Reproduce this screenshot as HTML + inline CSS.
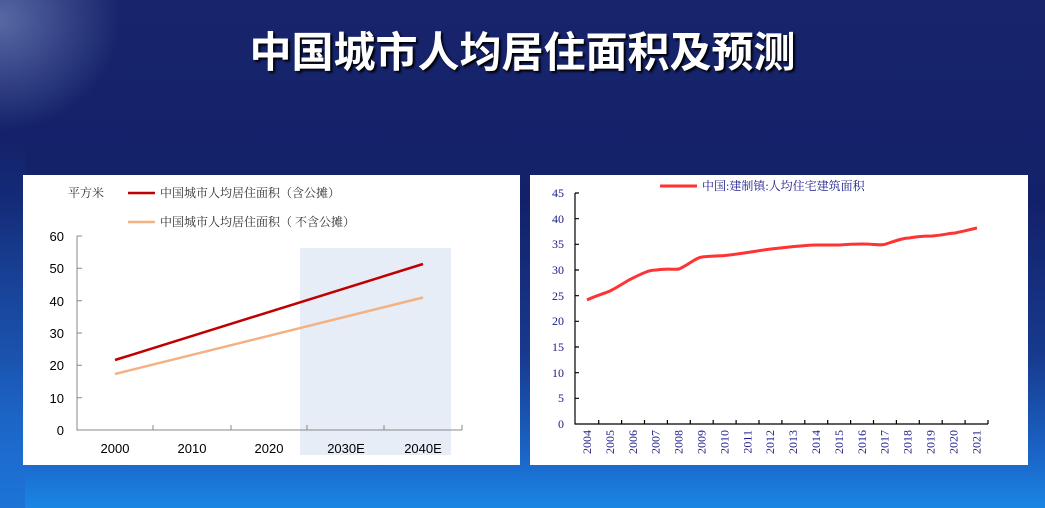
<!DOCTYPE html>
<html><head><meta charset="utf-8"><style>
html,body{margin:0;padding:0}
body{width:1045px;height:508px;overflow:hidden;position:relative;
background:linear-gradient(180deg,#18256c 0%,#13216a 40%,#173a8e 70%,#1a66c8 90%,#1a86e6 100%);font-family:"Liberation Sans","Noto Sans CJK SC",sans-serif}
.glow{position:absolute;left:0;top:0;width:1045px;height:508px;background:radial-gradient(ellipse 120px 110px at 0px 20px,rgba(140,160,210,.55),rgba(0,0,0,0));}
.edge{position:absolute;left:0;top:140px;width:25px;height:368px;background:linear-gradient(180deg,rgba(30,80,170,.0),rgba(30,110,210,.8))}
h1{position:absolute;left:0;width:1045px;top:24px;margin:0;text-align:center;color:#fff;font-size:42px;line-height:52px;font-weight:bold;font-family:"Noto Sans CJK SC",sans-serif;text-shadow:2px 2px 2px #000}
svg{position:absolute;left:0;top:0}
</style></head><body>
<div class="glow"></div>
<div class="edge"></div>
<h1>中国城市人均居住面积及预测</h1>
<svg width="1045" height="508" font-family="Liberation Serif, Noto Serif CJK SC, serif">
<rect x="23" y="175" width="497" height="290" fill="#fff"/>
<rect x="530" y="175" width="498" height="290" fill="#fff"/>
<rect x="300" y="248" width="151" height="207" fill="#e6edf6"/>
<g stroke="#888" stroke-width="1" fill="none">
<path d="M77 236V430H462"/>
<path d="M77 236h5M77 268.3h5M77 300.7h5M77 333h5M77 365.3h5M77 397.7h5"/>
<path d="M153 430v-5M231 430v-5M307 430v-5M384 430v-5M462 430v-5"/>
</g>
<g font-family="Liberation Sans, sans-serif" font-size="13" fill="#000" text-anchor="end">
<text x="64" y="241">60</text><text x="64" y="273">50</text><text x="64" y="306">40</text><text x="64" y="338">30</text><text x="64" y="370">20</text><text x="64" y="403">10</text><text x="64" y="435">0</text>
</g>
<g font-family="Liberation Sans, sans-serif" font-size="13" fill="#000" text-anchor="middle">
<text x="115" y="453">2000</text><text x="192" y="453">2010</text><text x="269" y="453">2020</text><text x="346" y="453">2030E</text><text x="423" y="453">2040E</text>
</g>
<line x1="115" y1="360" x2="423" y2="264" stroke="#c00000" stroke-width="2.5"/>
<line x1="115" y1="374" x2="423" y2="297.5" stroke="#f4b183" stroke-width="2.5"/>
<g font-size="12" fill="#333">
<text x="68" y="197">平方米</text>
<line x1="128" y1="193" x2="155" y2="193" stroke="#c00000" stroke-width="2.5"/>
<text x="160" y="197">中国城市人均居住面积（含公摊）</text>
<line x1="128" y1="222" x2="155" y2="222" stroke="#f4b183" stroke-width="2.5"/>
<text x="160" y="226">中国城市人均居住面积（ 不含公摊）</text>
</g>
<g stroke="#000" stroke-width="1.2" fill="none">
<path d="M575 193V424H988"/>
<path d="M575 193h4M575 218.7h4M575 244.3h4M575 270h4M575 295.7h4M575 321.3h4M575 347h4M575 372.7h4M575 398.3h4"/>
<path d="M598.7 424v-4M621.6 424v-4M644.5 424v-4M667.4 424v-4M690.3 424v-4M713.2 424v-4M736.1 424v-4M759 424v-4M781.9 424v-4M804.8 424v-4M827.7 424v-4M850.6 424v-4M873.5 424v-4M896.4 424v-4M919.3 424v-4M942.2 424v-4M965.1 424v-4M988 424v-4"/>
</g>
<g font-size="12" fill="#1a1a8a" text-anchor="end">
<text x="564" y="197">45</text><text x="564" y="223">40</text><text x="564" y="248">35</text><text x="564" y="274">30</text><text x="564" y="300">25</text><text x="564" y="325">20</text><text x="564" y="351">15</text><text x="564" y="377">10</text><text x="564" y="402">5</text><text x="564" y="428">0</text>
</g>
<g font-size="12" fill="#1a1a8a" text-anchor="end">
<text transform="translate(591,430) rotate(-90)">2004</text>
<text transform="translate(613.9,430) rotate(-90)">2005</text>
<text transform="translate(636.8,430) rotate(-90)">2006</text>
<text transform="translate(659.7,430) rotate(-90)">2007</text>
<text transform="translate(682.6,430) rotate(-90)">2008</text>
<text transform="translate(705.5,430) rotate(-90)">2009</text>
<text transform="translate(728.4,430) rotate(-90)">2010</text>
<text transform="translate(751.3,430) rotate(-90)">2011</text>
<text transform="translate(774.2,430) rotate(-90)">2012</text>
<text transform="translate(797.1,430) rotate(-90)">2013</text>
<text transform="translate(820,430) rotate(-90)">2014</text>
<text transform="translate(842.9,430) rotate(-90)">2015</text>
<text transform="translate(865.8,430) rotate(-90)">2016</text>
<text transform="translate(888.7,430) rotate(-90)">2017</text>
<text transform="translate(911.6,430) rotate(-90)">2018</text>
<text transform="translate(934.5,430) rotate(-90)">2019</text>
<text transform="translate(957.4,430) rotate(-90)">2020</text>
<text transform="translate(980.3,430) rotate(-90)">2021</text>
</g>
<path d="M587 300 C595 296,603 294,610 291 C620 286,628 280,633 278 C645 272,650 270,656 270 C668 268,675 270,679 269 C690 264,695 258,702 257 C712 256,718 256,725 255.5 C740 254,755 251,771 249 C790 247,805 245,817 245 C830 245,840 245,840 245 C850 244,858 244,863 244 C875 244,880 246,886 244 C895 241,903 238,909 238 C920 236,930 236,932 236 C945 235,950 233,955 233 C965 231,972 229,977 228" fill="none" stroke="#ff3333" stroke-width="3"/>
<line x1="660" y1="186" x2="697" y2="186" stroke="#ff3333" stroke-width="3"/>
<text x="702" y="190" font-size="12" fill="#1a1a8a">中国:建制镇:人均住宅建筑面积</text>
</svg>
</body></html>
